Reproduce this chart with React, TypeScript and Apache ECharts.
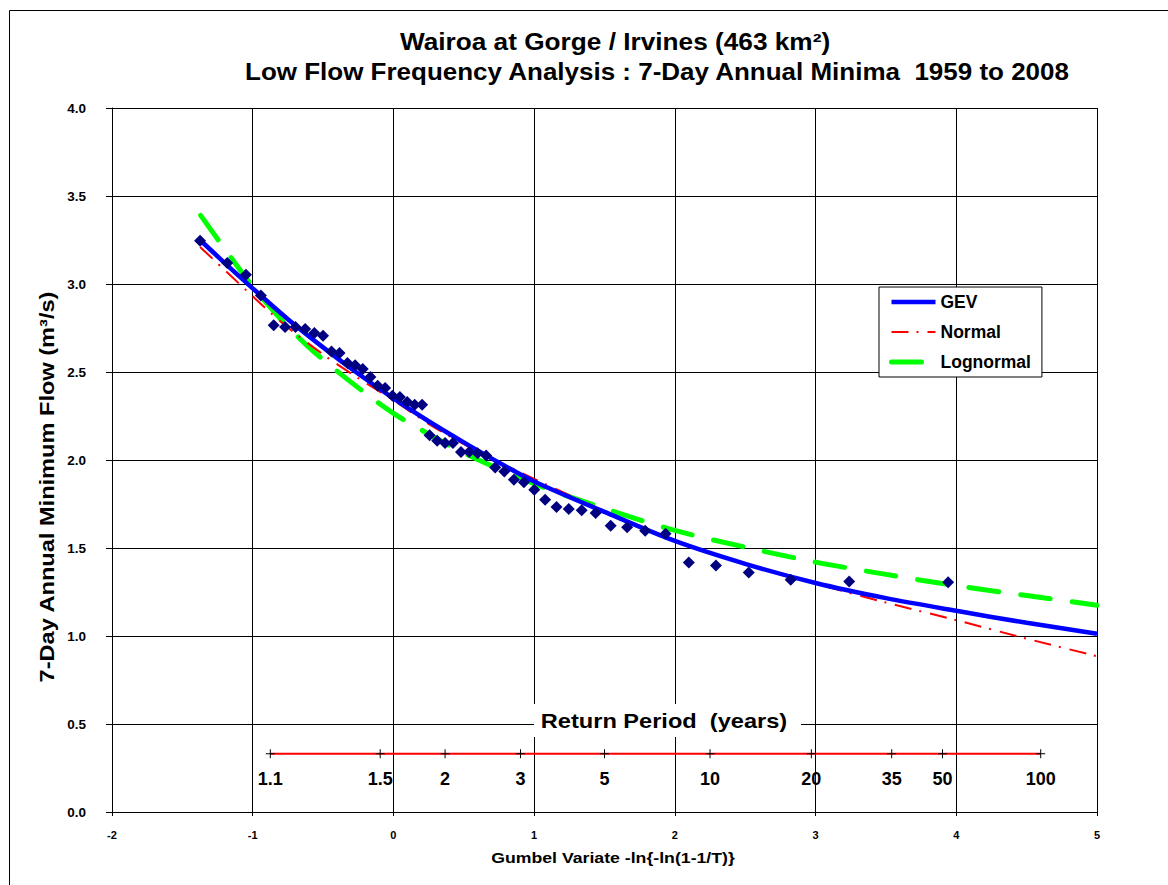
import React, { useEffect, useRef } from "react";
import * as echarts from "echarts";

// Observed 7-day annual minima, plotted at their Gumbel reduced variate
const obsX = [-1.374, -1.181, -1.048, -0.942, -0.851, -0.77, -0.696, -0.627, -0.562, -0.5, -0.44, -0.383, -0.327, -0.272, -0.218, -0.164, -0.112, -0.059, -0.007, 0.046, 0.098, 0.151, 0.204, 0.257, 0.311, 0.367, 0.423, 0.48, 0.538, 0.598, 0.659, 0.723, 0.788, 0.856, 0.927, 1.001, 1.078, 1.159, 1.246, 1.338, 1.437, 1.544, 1.661, 1.789, 1.934, 2.099, 2.292, 2.525, 2.823, 3.239, 3.942];
const obsY = [3.246, 3.119, 3.053, 2.935, 2.765, 2.756, 2.756, 2.744, 2.722, 2.706, 2.617, 2.608, 2.551, 2.538, 2.517, 2.472, 2.422, 2.409, 2.365, 2.358, 2.33, 2.314, 2.314, 2.14, 2.11, 2.097, 2.097, 2.045, 2.045, 2.038, 2.025, 1.958, 1.935, 1.888, 1.873, 1.831, 1.774, 1.733, 1.722, 1.714, 1.699, 1.627, 1.618, 1.598, 1.581, 1.418, 1.401, 1.361, 1.32, 1.31, 1.305];

// Fitted distributions
const gevX = [-1.374, -1.2, -1.0, -0.75, -0.5, -0.25, 0, 0.25, 0.5, 0.75, 1, 1.5, 2, 2.5, 3, 3.5, 4, 4.5, 5];
const gevY = [3.25, 3.12, 2.975, 2.8, 2.64, 2.49, 2.35, 2.22, 2.1, 1.985, 1.878, 1.705, 1.54, 1.41, 1.301, 1.215, 1.143, 1.075, 1.013];

const normX = [-1.374, -1.2, -1.0, -0.8, -0.5, -0.25, 0, 0.25, 0.5, 0.75, 1, 1.25, 1.5, 2, 2.5, 3, 3.5, 4, 4.5, 5];
const normY = [3.21, 3.08, 2.93, 2.785, 2.6, 2.465, 2.34, 2.205, 2.09, 1.99, 1.893, 1.8, 1.71, 1.543, 1.41, 1.297, 1.19, 1.09, 0.985, 0.885];

const lognX = [-1.37, -1.2, -1.0, -0.8, -0.6, -0.4, -0.2, 0, 0.2, 0.5, 1, 1.5, 2, 2.5, 3, 3.5, 4, 4.5, 5];
const lognY = [3.39, 3.2, 2.985, 2.8, 2.64, 2.505, 2.38, 2.265, 2.17, 2.04, 1.865, 1.725, 1.6, 1.505, 1.42, 1.35, 1.286, 1.23, 1.175];

// Return-period scale (years) and its position on the Gumbel axis
const rpLabels = ["1.1", "1.5", "2", "3", "5", "10", "20", "35", "50", "100"];
const rpPos = [-0.875, -0.094, 0.367, 0.903, 1.5, 2.25, 2.97, 3.541, 3.902, 4.6];
const RP_LINE_Y = 0.331;
const RP_LABEL_Y = 0.19;

const FONT = "'Liberation Sans', Arial, Helvetica, sans-serif";

export default function App() {
  const ref = useRef<HTMLDivElement>(null);

  useEffect(() => {
    const chart = echarts.init(ref.current as HTMLDivElement, null, { renderer: "svg" });
    const zip = (xs: number[], ys: number[]) => xs.map((x, i) => [x, ys[i]]);

    const boldText = (size: number) => ({
      fontSize: size,
      fontWeight: "bold",
      fontFamily: FONT,
      fill: "#000",
      textAlign: "center",
      textVerticalAlign: "middle",
    });

    chart.setOption({
      animation: false,
      backgroundColor: "#ffffff",
      textStyle: { fontFamily: FONT, color: "#000" },
      legend: {
        data: ["GEV", "Normal", "Lognormal"],
        orient: "vertical",
        left: 879,
        top: 287,
        padding: [6, 11, 6, 10],
        itemWidth: 44,
        itemHeight: 14,
        itemGap: 12,
        backgroundColor: "#fff",
        borderColor: "#000",
        borderWidth: 1,
        borderRadius: 0,
        itemStyle: { opacity: 0 },
        lineStyle: { width: "inherit", type: "inherit", cap: "inherit" },
        textStyle: { fontSize: 17.5, fontWeight: "bold", color: "#000", fontFamily: FONT },
      },
      grid: { left: 112, right: 71, top: 108, bottom: 73 },
      xAxis: {
        type: "value",
        min: -2,
        max: 5,
        interval: 1,
        axisLine: { show: true, onZero: false, lineStyle: { color: "#000", width: 1 } },
        axisTick: { show: true, length: 4, lineStyle: { color: "#000" } },
        axisLabel: { fontSize: 11, fontWeight: "bold", color: "#000", margin: 17, fontFamily: FONT },
        splitLine: { show: true, lineStyle: { color: "#000", width: 1 } },
      },
      yAxis: {
        type: "value",
        min: 0,
        max: 4,
        interval: 0.5,
        axisLine: { show: true, onZero: false, lineStyle: { color: "#000", width: 1 } },
        axisTick: { show: true, length: 6, lineStyle: { color: "#000" } },
        axisLabel: {
          fontSize: 13.5,
          fontWeight: "bold",
          color: "#000",
          margin: 26,
          fontFamily: FONT,
          formatter: (v: number) => v.toFixed(1),
        },
        splitLine: { show: true, lineStyle: { color: "#000", width: 1 } },
      },
      graphic: [
        {
          type: "rect",
          silent: true,
          z: -10,
          shape: { x: 9.5, y: 10.5, width: 1300, height: 1000 },
          style: { fill: "none", stroke: "#000", lineWidth: 1 },
        },
        {
          type: "text",
          x: 615,
          y: 42,
          scaleX: 1.14,
          style: { text: "Wairoa at Gorge / Irvines (463 km²)", ...boldText(23) },
        },
        {
          type: "text",
          x: 657,
          y: 72,
          scaleX: 1.13,
          style: { text: "Low Flow Frequency Analysis : 7-Day Annual Minima  1959 to 2008", ...boldText(23) },
        },
        {
          type: "text",
          x: 47,
          y: 487,
          rotation: Math.PI / 2,
          scaleX: 1.18,
          style: { text: "7-Day Annual Minimum Flow (m³/s)", ...boldText(20) },
        },
        {
          type: "text",
          x: 613,
          y: 858,
          scaleX: 1.18,
          style: { text: "Gumbel Variate -ln{-ln(1-1/T)}", ...boldText(15) },
        },
        {
          type: "rect",
          silent: true,
          z: 50,
          shape: { x: 534, y: 704, width: 267, height: 33 },
          style: { fill: "#fff", stroke: "none" },
        },
        {
          type: "text",
          z: 51,
          x: 664,
          y: 721,
          scaleX: 1.18,
          style: { text: "Return Period  (years)", ...boldText(20) },
        },
      ],
      series: [
        {
          name: "Lognormal",
          type: "line",
          data: zip(lognX, lognY),
          symbol: "none",
          smooth: 0.3,
          z: 2,
          itemStyle: { color: "#00FF00" },
          lineStyle: { color: "#00FF00", width: 5, type: [30, 22], cap: "round" },
        },
        {
          name: "Normal",
          type: "line",
          data: zip(normX, normY),
          symbol: "none",
          smooth: 0.3,
          z: 3,
          itemStyle: { color: "#FF0000" },
          lineStyle: { color: "#FF0000", width: 2, type: [17, 8, 2, 9] },
        },
        {
          name: "GEV",
          type: "line",
          data: zip(gevX, gevY),
          symbol: "none",
          smooth: 0.3,
          z: 4,
          itemStyle: { color: "#0000FF" },
          lineStyle: { color: "#0000FF", width: 4.5 },
        },
        {
          name: "Observed",
          type: "scatter",
          data: zip(obsX, obsY),
          symbol: "diamond",
          symbolSize: 12,
          z: 5,
          itemStyle: { color: "#000080", opacity: 1 },
        },
        {
          name: "Return period scale",
          type: "line",
          silent: true,
          data: rpPos.map((p) => [p, RP_LINE_Y]),
          symbol: "path://M0,5L10,5M5,0L5,10",
          symbolSize: 9,
          showSymbol: true,
          showAllSymbol: true,
          z: 3,
          itemStyle: { color: "rgba(0,0,0,0)", borderColor: "#000", borderWidth: 1 },
          lineStyle: { color: "#FF0000", width: 1.8 },
        },
        {
          name: "Return period labels",
          type: "scatter",
          silent: true,
          symbolSize: 0,
          z: 6,
          itemStyle: { opacity: 1 },
          data: rpPos.map((p, i) => ({
            value: [p, RP_LABEL_Y],
            label: { formatter: rpLabels[i] },
          })),
          label: {
            show: true,
            position: "inside",
            fontSize: 18,
            fontWeight: "bold",
            color: "#000",
            fontFamily: FONT,
          },
        },
      ],
    });

    return () => chart.dispose();
  }, []);

  return (
    <div
      ref={ref}
      style={{ position: "absolute", left: 0, top: 0, width: 1168, height: 885 }}
    />
  );
}
